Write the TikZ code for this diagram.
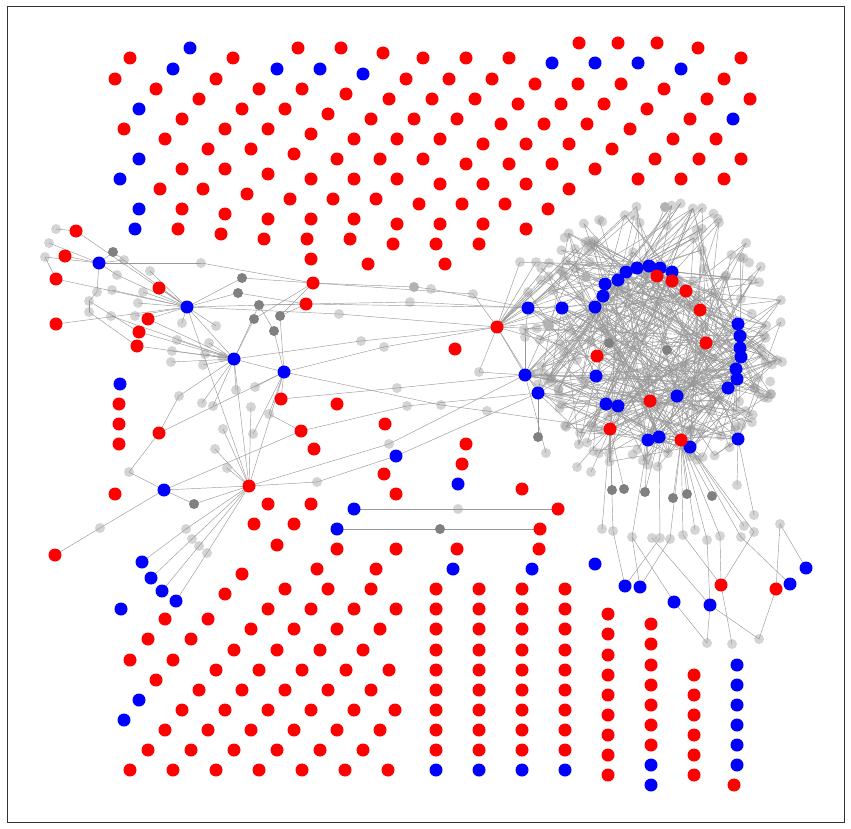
\documentclass[tikz,border=0pt]{standalone}
\usetikzlibrary{positioning}
\pgfdeclarelayer{bg}
\pgfsetlayers{bg,main}
\definecolor{nodered}{HTML}{FF0000}
\definecolor{nodeblue}{HTML}{0000FF}
\tikzset{
  rdot/.style={circle,fill=nodered,inner sep=0pt,minimum size=13pt},
  bdot/.style={circle,fill=nodeblue,inner sep=0pt,minimum size=13pt},
  ldot/.style={circle,fill=black!42,fill opacity=0.4,inner sep=0pt,minimum size=10pt},
  mdot/.style={circle,fill=black!30,inner sep=0pt,minimum size=10pt},
  ddot/.style={circle,fill=black!50,inner sep=0pt,minimum size=10pt},
  link/.style={black!40,line width=0.45pt},
}

\begin{document}
\begin{tikzpicture}[x=1pt,y=-1pt]
\useasboundingbox (0,0) rectangle (851,829);
\draw[black!80,line width=0.8pt] (7,6) rectangle (844,822);
\pgfmathsetseed{7}

% upper lattice
\foreach \x/\y [count=\i] in {130/58, 233/58, 298/48, 341/48, 383/53, 423/58, 466/58, 509/58, 579/43, 618/43, 657/43, 698/48, 741/58,
  115/79, 216/79, 406/79, 449/79, 492/79, 535/84, 578/84, 621/84, 664/89, 724/79,
  156/89, 259/89, 302/89, 346/94, 389/99, 432/99, 475/99, 518/104, 561/104, 604/104, 647/109, 707/99, 750/99,
  199/99, 242/109, 285/109, 328/114, 371/119, 414/119, 457/119, 501/124, 544/124, 587/124, 630/129, 690/119,
  182/119, 124/129, 225/129, 268/129, 311/134, 354/139, 397/139, 440/139, 483/144, 526/144, 569/144, 612/149, 673/139, 716/139,
  165/139, 208/149, 251/149, 294/154, 337/159, 380/159, 423/159, 466/164, 509/164, 552/164, 595/169, 655/159, 699/159, 741/159,
  182/169, 225/169, 268/174, 311/179, 354/179, 397/179, 440/184, 483/184, 526/184, 569/189, 638/179, 681/179, 724/179,
  160/189, 203/189, 247/194, 290/199, 333/199, 376/199, 419/204, 462/204, 505/204, 548/209,
  182/209, 225/214, 268/219, 311/219, 354/219, 397/224, 440/224, 483/224, 526/229,
  178/229, 221/234, 264/239, 307/239, 350/239, 393/244, 436/244, 479/244,
  311/259, 368/264, 445/264}
  \node[rdot] (tr\i) at (\x,\y) {};
\foreach \x/\y [count=\i] in {190/48, 173/69, 277/69, 320/69, 363/74, 139/109, 139/159, 120/179, 139/209, 135/229,
  552/63, 595/63, 638/63, 681/69, 733/119}
  \node[bdot] (tb\i) at (\x,\y) {};

% loose nodes
\foreach \x/\y [count=\i] in {337/404, 385/424, 314/449, 466/444, 462/464, 384/474, 396/494, 522/489, 455/349,
  268/504, 254/524, 294/524, 311/504, 119/404, 119/424, 119/444, 115/494}
  \node[rdot] (or\i) at (\x,\y) {};
\foreach \x/\y [count=\i] in {120/384, 458/484, 595/564}
  \node[bdot] (ob\i) at (\x,\y) {};

% lower lattice
\foreach \x/\y [count=\i] in {277/545, 337/549, 396/549, 457/549, 539/549, 242/574, 317/569, 376/569, 225/594, 285/589, 328/589, 371/589,
  165/619, 208/619, 268/609, 311/609, 354/609, 396/609, 148/639, 191/639, 251/629, 294/629, 337/629, 380/629,
  130/660, 173/660, 234/650, 277/650, 320/650, 363/650, 156/680, 216/670, 259/670, 302/670, 346/670, 389/670,
  199/690, 242/690, 285/690, 328/690, 371/690, 182/710, 225/710, 268/710, 311/710, 354/710, 395/710,
  165/730, 208/730, 251/730, 294/730, 337/730, 380/730, 148/750, 191/750, 234/750, 277/750, 320/750, 363/750,
  130/770, 173/770, 216/770, 259/770, 302/770, 345/770, 388/770}
  \node[rdot] (lr\i) at (\x,\y) {};
\foreach \x/\y [count=\i] in {121/609, 139/700, 124/720, 453/569, 532/569}
  \node[bdot] (lb\i) at (\x,\y) {};

% columns
\foreach \x in {436,479,522,565}{
  \foreach \y in {589,609,629,650,670,690,710,730,750}
    \node[rdot] (p\x-\y) at (\x,\y) {};
  \node[bdot] (p\x-770) at (\x,770) {};
}
\foreach \y in {614,634,655,675,695,715,735,755,775}
  \node[rdot] (p608-\y) at (608,\y) {};
\foreach \y in {624,644,665,685,705,725,745}
  \node[rdot] (p651-\y) at (651,\y) {};
\foreach \y in {765,785}
  \node[bdot] (p651-\y) at (651,\y) {};
\foreach \y in {675,695,715,735,755,775}
  \node[rdot] (p694-\y) at (694,\y) {};
\foreach \y in {665,685,705,725,745,765}
  \node[bdot] (p737-\y) at (737,\y) {};
\node[rdot] (p734-785) at (734,785) {};

% left network
\foreach \n/\x/\y in {1/56/229, 2/49/243, 3/45/257, 4/124/260, 5/117/275, 6/150/271, 7/201/263, 8/97/292, 9/112/290,
  10/143/292, 11/89/301, 12/89/312, 13/138/303, 14/111/316, 15/135/316, 16/182/323, 17/216/326, 18/177/340,
  19/172/351, 20/171/362, 21/209/343, 22/205/354, 23/203/365, 24/222/357, 25/179/396, 26/202/403, 27/213/406,
  28/236/390, 29/255/387, 30/251/407, 31/269/414, 32/223/429, 33/253/434, 34/215/449, 35/227/468, 36/129/472,
  37/100/528, 38/186/529, 39/192/539, 40/199/546, 41/207/553, 42/339/314, 43/361/341, 44/384/347, 45/479/372,
  46/397/388, 47/407/406, 48/441/405, 49/487/411, 50/389/444, 51/317/482, 52/458/509, 53/410/302, 54/473/294,
  55/546/453, 56/525/337, 57/431/289}
  \node[ldot] (g\n) at (\x,\y) {};
\foreach \n/\x/\y in {1/113/252, 2/242/278, 3/238/293, 4/259/305, 5/254/319, 6/280/316, 7/274/331, 8/194/504,
  9/440/529, 10/538/437}
  \node[ddot] (d\n) at (\x,\y) {};
\node[mdot] (m1) at (414,287) {};
\foreach \n/\x/\y in {1/99/263, 2/187/307, 3/234/359, 4/284/372, 5/164/490, 6/396/456, 8/354/509, 9/337/529,
  10/142/562, 11/151/578, 12/162/591, 13/176/601}
  \node[bdot] (b\n) at (\x,\y) {};
\foreach \n/\x/\y in {1/76/231, 2/65/256, 3/56/279, 4/56/324, 5/159/288, 6/148/319, 7/139/332, 8/137/346, 9/159/433,
  10/249/486, 11/313/283, 12/306/304, 13/301/431, 14/281/399, 15/497/327, 16/558/509, 17/540/529, 18/55/555}
  \node[rdot] (r\n) at (\x,\y) {};

% right cluster: outer ring, then inner part
\foreach \k in {1,...,110}{
  \pgfmathsetmacro\ang{360*rnd}
  \pgfmathsetmacro\rr{0.8+0.2*rnd}
  \node[ldot] (c\k) at ({655+132*\rr*cos(\ang)},{335+136*\rr*sin(\ang)}) {};
}
\foreach \k in {111,...,160}{
  \pgfmathsetmacro\ang{360*rnd}
  \pgfmathsetmacro\rr{0.3+0.5*rnd}
  \node[ldot] (c\k) at ({655+132*\rr*cos(\ang)},{335+136*\rr*sin(\ang)}) {};
}
\foreach \n/\x/\y in {1/520/262, 2/536/262, 3/549/263, 4/560/270, 5/541/280, 6/528/292, 7/575/249, 8/589/241,
  9/548/322, 10/570/330, 11/580/296, 12/560/345, 13/590/262}
  \node[ldot] (q\n) at (\x,\y) {};
\foreach \n/\x/\y in {1/602/529, 2/613/531, 3/632/537, 4/652/538, 5/660/538, 6/670/539, 7/683/535, 8/695/530,
  9/707/540, 10/720/536, 11/741/537, 12/754/532, 13/744/526, 14/780/524, 15/754/515, 16/737/485, 17/577/467,
  18/591/472, 19/707/643, 20/732/644, 21/759/639, 22/768/398}
  \node[ldot] (e\n) at (\x,\y) {};
\foreach \n/\x/\y in {1/612/490, 2/624/489, 3/645/492, 4/673/498, 5/687/494, 6/712/496, 7/609/343, 8/667/350}
  \node[ddot] (k\n) at (\x,\y) {};
\foreach \n/\x/\y in {2/586/277, 3/665/207, 4/549/326}
  \node[mdot] (m\n) at (\x,\y) {};
\foreach \x/\y [count=\i] in {528/308, 562/308, 595/307, 603/296, 605/284, 618/280, 626/272, 637/268, 649/266,
  660/268, 672/272, 738/324, 740/336, 740/348, 741/357, 736/369, 737/379, 728/388, 596/376, 606/404, 618/406,
  677/396, 648/440, 659/437, 690/447, 738/439, 525/375, 538/393}
  \node[bdot] (h\i) at (\x,\y) {};
\foreach \x/\y [count=\i from 29] in {657/276, 672/281, 686/291, 700/310, 706/343, 597/356, 650/401, 610/429, 681/440}
  \node[rdot] (h\i) at (\x,\y) {};
\foreach \n/\x/\y in {2/625/586, 3/640/587, 4/674/602, 5/710/605, 8/790/584, 9/806/568}
  \node[bdot] (u\n) at (\x,\y) {};
\foreach \n/\x/\y in {6/721/585, 7/776/589}
  \node[rdot] (u\n) at (\x,\y) {};

\begin{pgfonlayer}{bg}
\foreach \u/\v in {g1/r1, r1/b2, g2/b1, g3/b1, g3/r3, b1/r2, b1/g7, g7/r11, b1/d1, d1/b2, b1/g4, b1/g5, b1/g8,
  g8/g11, g11/g12, g12/r8, g11/r7, r3/b2, r4/b2, r5/b2, r6/b2, g6/b2, g10/b2, g9/b2, g5/b2, g13/b2, g15/b2,
  g14/b3, r6/b3, r7/b3, r8/b3, g16/b2, g17/b2, b2/b3, b2/r10, b2/d2, b2/d3, b2/r12, b2/g42, g42/r15,
  b3/g18, b3/g19, b3/g20, b3/g21, b3/g22, b3/g23, b3/g24, b3/b4, b3/g25, b3/g28, b3/d5, b3/g43, g43/r15,
  b3/r10, b3/g26, g27/b3, g25/r9, r9/g36, g36/b5, b5/d8, d8/r10, b5/g37, g37/r18, b5/r10, r9/b4,
  b4/d6, b4/d7, b4/r14, b4/g29, b4/g31, b4/g33, b4/r10, b4/g44, g44/r15, b4/g48, r13/b5, r13/g31,
  d2/r11, d3/r12, d4/r12, d4/b3, d5/r11, d6/r12, d6/r11, d7/d4, r10/g32, r10/g34, r10/g35, r10/g30,
  r10/g38, g38/b10, r10/g39, g39/b11, r10/g40, g40/b12, r10/g41, g41/b13,
  r11/m1, m1/g57, g57/h1, r12/g53, g53/h1, r11/g54, g54/r15, g45/r15, g45/h27, r14/g46, g46/h27,
  g48/g49, g49/h36, r13/g47, g47/h28, b6/h28, r10/g51, g51/b6, r10/g50, g50/h27,
  b8/g52, g52/r16, b9/d9, d9/r17, g56/h1, g56/h27, h28/d10, h27/g55, r12/h2,
  r15/q1, r15/q2, r15/q3, r15/q4, r15/q5, r15/q6, r15/q7, r15/q8, r15/q9, r15/q10, r15/q11, r15/q12, r15/q13,
  r15/h1, r15/h2, r15/h27, r15/h28, q1/h8, q2/h10, q3/h12, q4/h14, q5/h16, q6/h20, q7/h6, q8/h30, q9/h33,
  q10/h22, q11/h25, q12/h31, q13/h9, m2/h13, m3/h19, m4/h11,
  h36/e1, h36/e2, h36/k1, h36/k2, h36/e17, h36/e18, h23/k3, h23/e3, h24/e5, h24/k3, h37/e6, h37/e7, h37/k4,
  h37/k5, h37/e8, h37/e9, h37/e10, h37/k6, h25/e11, h25/e13, h25/e12, h26/e16, h26/e15, h18/e22, h17/e22,
  u2/e2, u2/e5, u3/e6, u3/e3, u4/e3, u4/e19, u5/e9, u5/e4, u5/e21, u5/e19, u6/e7, u6/e10, u6/e12, u6/e20,
  u7/e14, u7/e21, u8/e11, u9/e14, k7/h34, k7/h5, k8/h29, k8/h35}
  \draw[link] (\u.center) -- (\v.center);
\foreach \i in {1,...,37}{
  \foreach \k in {1,...,11}{
    \pgfmathrandominteger{\j}{1}{160}
    \draw[link] (h\i.center) -- (c\j.center);
  }
}
\end{pgfonlayer}
\end{tikzpicture}
\end{document}
